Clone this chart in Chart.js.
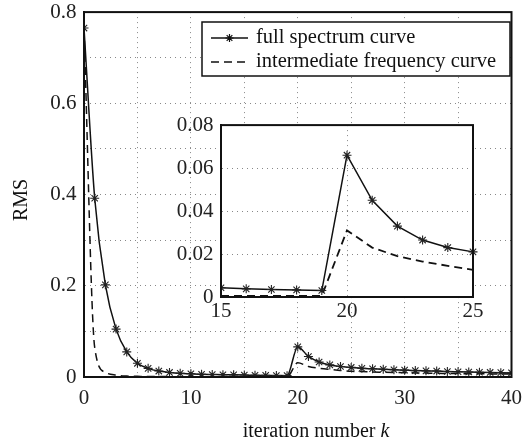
<!DOCTYPE html>
<html>
<head>
<meta charset="utf-8">
<script src="https://cdn.jsdelivr.net/npm/chart.js@4"></script>
<style>
  body { margin: 0; background: #fff; overflow: hidden; }
  #wrap { position: relative; width: 531px; height: 441px; overflow: hidden; }
  canvas { position: absolute; }
  #mainChart { left: 0; top: -8px; }
  #insetChart { left: 150px; top: 105px; }
</style>
</head>
<body>
<div id="wrap">
  <canvas id="mainChart" width="531" height="449"></canvas>
  <canvas id="insetChart" width="340" height="225"></canvas>
</div>
<script>
const iterations = [];
for (let k = 0; k <= 40; k++) iterations.push(k);

const fullSpectrum = [0.765, 0.392, 0.202, 0.105, 0.055, 0.030, 0.019, 0.013, 0.010, 0.008,
  0.007, 0.006, 0.0055, 0.005, 0.0047, 0.0043, 0.0038, 0.0035, 0.0033, 0.0030,
  0.066, 0.045, 0.033, 0.0265, 0.023, 0.021, 0.019, 0.018, 0.017, 0.016,
  0.015, 0.014, 0.0135, 0.013, 0.012, 0.0115, 0.011, 0.0105, 0.010, 0.0095, 0.009];

const intermediate = [0.765, 0.065, 0.010, 0.004, 0.002, 0.0015, 0.001, 0.001, 0.0008, 0.0007,
  0.0006, 0.0006, 0.0005, 0.0005, 0.0005, 0.0005, 0.0005, 0.0005, 0.0005, 0.0005,
  0.031, 0.023, 0.019, 0.0165, 0.0145, 0.0126, 0.012, 0.011, 0.0105, 0.010,
  0.0095, 0.009, 0.0085, 0.008, 0.0078, 0.0075, 0.0072, 0.007, 0.0068, 0.0066, 0.0065];

const seriesNames = ['full spectrum curve', 'intermediate frequency curve'];
const xTicksMain = [0, 10, 20, 30, 40];
const yTicksMain = [0, 0.2, 0.4, 0.6, 0.8];

const FONT = '"Liberation Serif", "Times New Roman", serif';
const gridStyle = { color: '#888', lineWidth: 1, drawTicks: false };
const borderStyle = { display: true, color: '#111', width: 2, dash: [1, 4] };
// main canvas sits 8px above the page top
const OFF = 8;

function pts(xs, ys, from, to) {
  const out = [];
  for (let i = 0; i < xs.length; i++) {
    if (xs[i] >= from && xs[i] <= to) out.push({ x: xs[i], y: ys[i] });
  }
  return out;
}

const framePlugin = {
  id: 'frame',
  beforeDraw(chart, args, opts) {
    if (!opts.fill) return;
    const a = chart.chartArea, ctx = chart.ctx;
    ctx.save();
    ctx.fillStyle = '#fff';
    ctx.fillRect(a.left, a.top, a.right - a.left, a.bottom - a.top);
    ctx.restore();
  },
  afterDraw(chart) {
    const a = chart.chartArea, ctx = chart.ctx;
    ctx.save();
    ctx.strokeStyle = '#111';
    ctx.lineWidth = 2;
    ctx.strokeRect(a.left, a.top, a.right - a.left, a.bottom - a.top);
    ctx.restore();
  }
};

const mainDecor = {
  id: 'mainDecor',
  afterDraw(chart) {
    const ctx = chart.ctx;
    ctx.save();
    ctx.translate(0, OFF);
    // legend
    ctx.fillStyle = '#fff';
    ctx.fillRect(202, 22, 308, 54);
    ctx.strokeStyle = '#111';
    ctx.lineWidth = 1.5;
    ctx.strokeRect(202, 22, 308, 54);
    ctx.beginPath();
    ctx.moveTo(211, 38); ctx.lineTo(248, 38);
    ctx.stroke();
    // star marker
    const cx = 229.5, cy = 38, r = 4;
    ctx.beginPath();
    for (let i = 0; i < 4; i++) {
      const ang = i * Math.PI / 4;
      ctx.moveTo(cx - r * Math.cos(ang), cy - r * Math.sin(ang));
      ctx.lineTo(cx + r * Math.cos(ang), cy + r * Math.sin(ang));
    }
    ctx.lineWidth = 1.2;
    ctx.stroke();
    ctx.setLineDash([8, 5]);
    ctx.lineWidth = 1.5;
    ctx.beginPath();
    ctx.moveTo(211, 62); ctx.lineTo(248, 62);
    ctx.stroke();
    ctx.setLineDash([]);
    ctx.fillStyle = '#111';
    ctx.font = '20.5px ' + FONT;
    ctx.textBaseline = 'middle';
    ctx.textAlign = 'left';
    ctx.fillText(seriesNames[0], 256, 38);
    ctx.fillText(seriesNames[1], 256, 62);
    // axis titles
    ctx.font = '20px ' + FONT;
    ctx.save();
    ctx.translate(22, 200);
    ctx.rotate(-Math.PI / 2);
    ctx.textAlign = 'center';
    ctx.fillText('RMS', 0, 0);
    ctx.restore();
    const t1 = 'iteration number ';
    const w1 = ctx.measureText(t1).width;
    ctx.font = 'italic 20px ' + FONT;
    const w2 = ctx.measureText('k').width;
    const x0 = 316 - (w1 + w2) / 2;
    ctx.font = '20px ' + FONT;
    ctx.fillText(t1, x0, 432);
    ctx.font = 'italic 20px ' + FONT;
    ctx.fillText('k', x0 + w1, 432);
    ctx.restore();
  }
};

new Chart(document.getElementById('mainChart'), {
  type: 'line',
  data: {
    datasets: [
      {
        label: seriesNames[0],
        data: pts(iterations, fullSpectrum, 0, 40),
        borderColor: '#111',
        borderWidth: 1.5,
        pointStyle: 'star',
        pointRadius: 4.5,
        pointBorderColor: '#222',
        pointBorderWidth: 1.1,
        cubicInterpolationMode: 'monotone',
        fill: false
      },
      {
        label: seriesNames[1],
        data: pts(iterations, intermediate, 0, 40),
        borderColor: '#111',
        borderWidth: 1.5,
        borderDash: [8, 5],
        pointRadius: 0,
        cubicInterpolationMode: 'monotone',
        fill: false
      }
    ]
  },
  options: {
    responsive: false,
    animation: false,
    devicePixelRatio: 1,
    layout: { padding: { top: 0, right: 19, bottom: 0, left: 0 } },
    plugins: { legend: { display: false }, tooltip: { enabled: false }, frame: { fill: false } },
    scales: {
      x: {
        type: 'linear', min: 0, max: 40,
        grid: gridStyle, border: borderStyle,
        afterFit(axis) { axis.height = 64; },
        ticks: {
          stepSize: 5, padding: 9, color: '#222', maxRotation: 0,
          font: { family: FONT, size: 21 },
          callback: v => xTicksMain.includes(v) ? String(v) : ''
        }
      },
      y: {
        min: 0, max: 0.8,
        grid: gridStyle, border: borderStyle,
        afterFit(axis) { axis.width = 84; },
        ticks: {
          stepSize: 0.1, padding: 7.5, color: '#222',
          font: { family: FONT, size: 21 },
          callback: v => {
            const m = yTicksMain.find(t => Math.abs(t - v) < 1e-6);
            return m === undefined ? '' : String(m);
          }
        }
      }
    }
  },
  plugins: [framePlugin, mainDecor]
});

new Chart(document.getElementById('insetChart'), {
  type: 'line',
  data: {
    datasets: [
      {
        data: pts(iterations, fullSpectrum, 15, 25),
        borderColor: '#111',
        borderWidth: 1.5,
        pointStyle: 'star',
        pointRadius: 4.5,
        pointBorderColor: '#222',
        pointBorderWidth: 1.1,
        clip: { left: 0, top: 0, right: 6, bottom: 0 }
      },
      {
        data: pts(iterations, intermediate, 15, 25),
        borderColor: '#111',
        borderWidth: 1.8,
        borderDash: [8, 5],
        pointRadius: 0,
        clip: { left: 0, top: 0, right: 6, bottom: 0 }
      }
    ]
  },
  options: {
    responsive: false,
    animation: false,
    devicePixelRatio: 1,
    layout: { padding: { top: 0, right: 17, bottom: 0, left: 0 } },
    plugins: { legend: { display: false }, tooltip: { enabled: false }, frame: { fill: true } },
    scales: {
      x: {
        type: 'linear', min: 15, max: 25,
        grid: gridStyle, border: borderStyle,
        afterFit(axis) { axis.height = 33; },
        ticks: { stepSize: 5, padding: 2, color: '#222', maxRotation: 0, font: { family: FONT, size: 21 } }
      },
      y: {
        min: 0, max: 0.08,
        grid: gridStyle, border: borderStyle,
        afterFit(axis) { axis.width = 71; },
        ticks: {
          stepSize: 0.02, padding: 7.5, color: '#222',
          font: { family: FONT, size: 21 },
          callback: v => v === 0 ? '0' : v.toFixed(2)
        }
      }
    }
  },
  plugins: [framePlugin]
});
</script>
</body>
</html>
